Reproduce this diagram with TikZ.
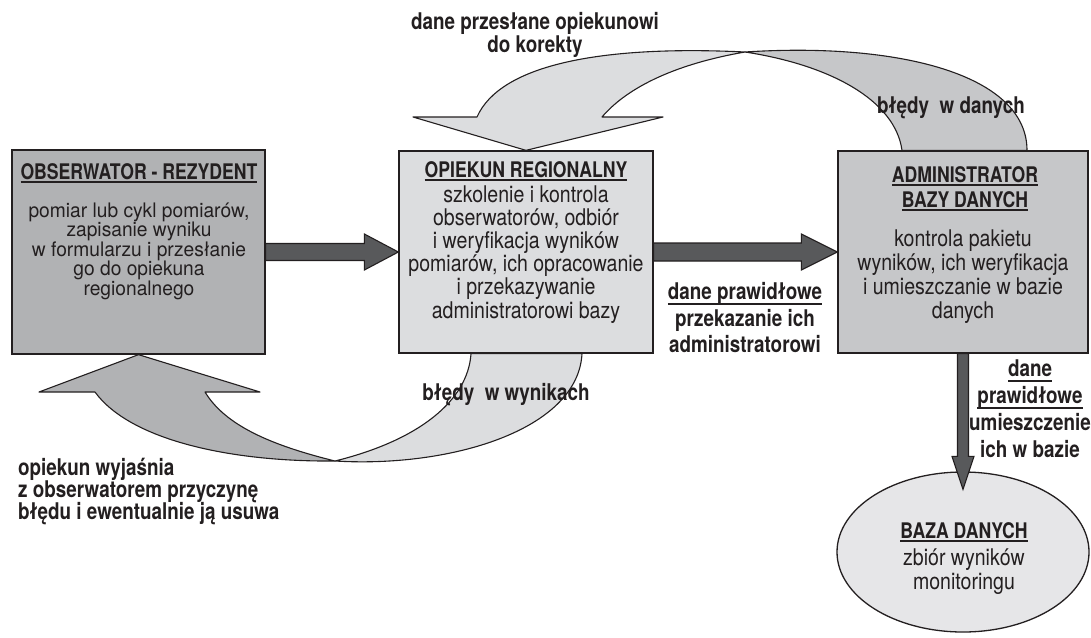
\documentclass[tikz,border=0pt]{standalone}
\usepackage{fontspec}
\setmainfont{TeX Gyre Heros}
\newfontfamily\condf{TeX Gyre Heros}[FakeStretch=0.82]
\newfontfamily\bodyf{TeX Gyre Heros}[FakeStretch=0.85]
\newfontfamily\obsf{TeX Gyre Heros}[FakeStretch=0.96]
\usetikzlibrary{calc,shapes.geometric}
\pgfdeclarelayer{bg}
\pgfsetlayers{bg,main}
\definecolor{ink}{HTML}{231F20}
\definecolor{gA}{HTML}{B1B2B4}
\definecolor{gB}{HTML}{DCDDDF}
\definecolor{gC}{HTML}{C6C7C9}
\definecolor{gD}{HTML}{E6E6E8}
\definecolor{gE}{HTML}{58595B}
\newcommand\ulin[2][3.5]{\setbox0\hbox{#2}\rlap{\raisebox{-#1pt}{\color{ink}\rule{\wd0}{1.8pt}}}\box0}
\tikzset{
  box/.style={draw=ink, line width=1.3pt, rectangle, inner sep=0pt},
  ribbon/.style={draw=ink, line width=1.1pt, line join=round},
  blk/.style={draw=ink, fill=gE, line width=1.1pt},
  ttl/.style={font=\condf\bfseries\fontsize{21.5}{24}\selectfont, text=ink, inner sep=0pt, anchor=base},
  bod/.style={font=\bodyf\fontsize{23}{24}\selectfont, text=ink, inner sep=0pt, anchor=base},
  bodsm/.style={font=\obsf\fontsize{20}{21}\selectfont, text=ink, inner sep=0pt, anchor=base},
  lbl/.style={font=\condf\bfseries\fontsize{23}{26}\selectfont, text=ink, inner sep=0pt, anchor=base},
}
\begin{document}
\begin{tikzpicture}[x=1pt,y=-1pt]
\useasboundingbox (0,0) rectangle (1091,637);
% boxes
\node[box, fill=gA, minimum width=253pt, minimum height=204pt] (obs) at (138.5,252) {};
\node[box, fill=gB, minimum width=254pt, minimum height=202pt] (opi) at (526,252) {};
\node[box, fill=gC, minimum width=250pt, minimum height=202pt] (adm) at (963,252) {};
\node[draw=ink, line width=1.3pt, fill=gD, ellipse, minimum width=252pt, minimum height=160pt, inner sep=0pt] (db) at (963,552) {};
% curved ribbons (behind boxes)
\begin{pgfonlayer}{bg}
\draw[ribbon, fill=gC] (745,52) .. controls (900,42) and (1027,75) .. ($(adm.north)+(64,0)$)
  -- ($(adm.north)+(-61,0)$) .. controls (895,100) and (830,65) .. (745,52) -- cycle;
\draw[ribbon, fill=gB] (opi.north) -- (663,117) -- (602,117) .. controls (625,90) and (670,65) .. (745,52)
  .. controls (600,45) and (500,65) .. (477,117) -- (413,117) -- cycle;
\draw[ribbon, fill=gB] ($(opi.south)+(56,0)$) .. controls (578,430) and (450,468) .. (335,461)
  .. controls (420,440) and (468,400) .. ($(opi.south)+(-55,0)$) -- cycle;
\draw[ribbon, fill=gA] (obs.south) -- (260,392) -- (205,392) .. controls (225,425) and (270,445) .. (335,461)
  .. controls (230,462) and (130,440) .. (95,392) -- (39,392) -- cycle;
\end{pgfonlayer}
% straight block arrows
\draw[blk] ($(obs.east)+(0,-8.5)$) -- ($(opi.west)+(-34,-8.5)$) -- ($(opi.west)+(-34,-18)$) -- (opi.west)
  -- ($(opi.west)+(-34,18)$) -- ($(opi.west)+(-34,8.5)$) -- ($(obs.east)+(0,8.5)$) -- cycle;
\draw[blk] ($(opi.east)+(0,-9)$) -- ($(adm.west)+(-36,-9)$) -- ($(adm.west)+(-36,-18)$) -- (adm.west)
  -- ($(adm.west)+(-36,18)$) -- ($(adm.west)+(-36,9)$) -- ($(opi.east)+(0,9)$) -- cycle;
\draw[blk] ($(adm.south)+(-5.5,0)$) -- ($(db.north)+(-5.5,-15)$) -- ($(db.north)+(-11,-15)$) -- ($(db.north)+(0,18)$)
  -- ($(db.north)+(11,-15)$) -- ($(db.north)+(5.5,-15)$) -- ($(adm.south)+(5.5,0)$) -- cycle;
% box texts
\node[ttl] (obsT) at (139,179) {\ulin{OBSERWATOR - REZYDENT}};
\foreach \s [count=\i from 0] in {{pomiar lub cykl pomiarów,},{zapisanie wyniku},{w formularzu i przesłanie},{go do opiekuna},{regionalnego}}
  \node[bodsm] (obsL\i) at (139,217+19.5*\i) {\s};
\node[ttl] (opiT) at (526,177) {\ulin{OPIEKUN REGIONALNY}};
\foreach \s [count=\i from 0] in {{szkolenie i kontrola},{obserwatorów, odbiór},{i weryfikacja wyników},{pomiarów, ich opracowanie},{i przekazywanie},{administratorowi bazy}}
  \node[bod] (opiL\i) at (526,202+23.2*\i) {\s};
\node[ttl] (admT1) at (965,182) {\ulin{ADMINISTRATOR}};
\node[ttl] (admT2) at (965,207) {\ulin{BAZY DANYCH}};
\foreach \s [count=\i from 0] in {{kontrola pakietu},{wyników, ich weryfikacja},{i umieszczanie w bazie},{danych}}
  \node[bod] (admL\i) at (963,246+24*\i) {\s};
\node[ttl] (dbT) at (964,538) {\ulin{BAZA DANYCH}};
\node[bod] (dbL0) at (964,565) {zbiór wyników};
\node[bod] (dbL1) at (964,589) {monitoringu};
% labels
\node[lbl] (lt1) at (535,29) {dane przesłane opiekunowi};
\node[lbl] (lt2) at (535,52) {do korekty};
\node[lbl] (lbd) at (951,113) {błędy~~w danych};
\node[lbl] (lbw) at (506,400) {błędy~~w wynikach};
\foreach \s [count=\i from 0] in {{opiekun wyjaśnia},{z obserwatorem przyczynę},{błędu i ewentualnie ją usuwa}}
  \node[lbl, anchor=base west] (lo\i) at (18,475+22*\i) {\s};
\node[lbl] (lp0) at (745,299) {\ulin[6]{dane prawidłowe}};
\node[lbl] (lp1) at (745,326) {przekazanie ich};
\node[lbl] (lp2) at (745,352) {administratorowi};
\node[lbl] (lr0) at (1030,376) {\ulin[6]{dane}};
\node[lbl] (lr1) at (1030,403) {\ulin[6]{prawidłowe}};
\node[lbl] (lr2) at (1030,430) {umieszczenie};
\node[lbl] (lr3) at (1030,457) {ich w bazie};
\end{tikzpicture}
\end{document}
